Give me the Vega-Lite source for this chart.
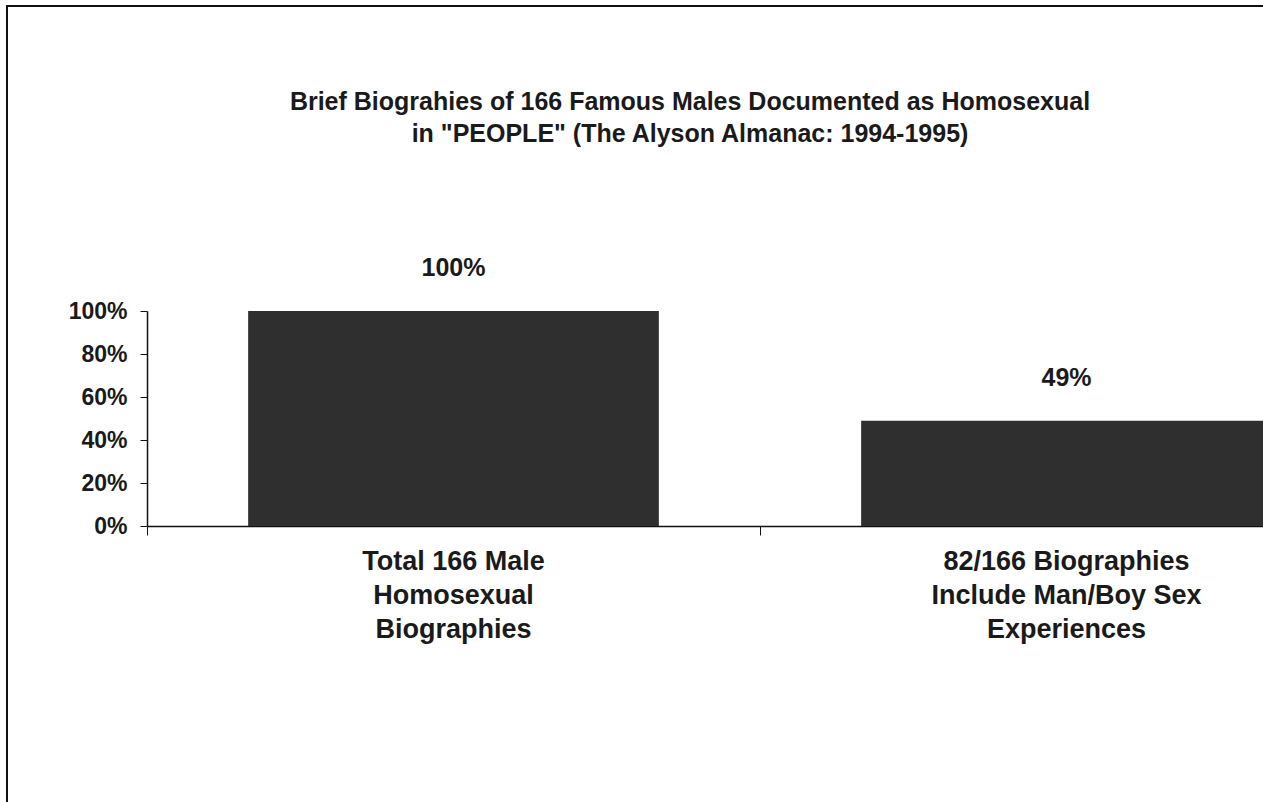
{
  "$schema": "https://vega.github.io/schema/vega-lite/v6.json",
  "autosize": "none",
  "padding": {"left": 7, "top": 6, "right": 0, "bottom": 0},
  "width": 1506,
  "height": 900,
  "background": "white",
  "config": {
    "view": {"stroke": "#111111", "strokeWidth": 2},
    "font": "Liberation Sans"
  },
  "title": {
    "text": ["Brief Biograhies of 166 Famous Males Documented as Homosexual", "in \"PEOPLE\" (The Alyson Almanac: 1994-1995)"],
    "font": "Liberation Sans",
    "fontSize": 25,
    "fontWeight": "bold",
    "color": "#1a1a1a",
    "lineHeight": 32,
    "baseline": "top",
    "anchor": "middle",
    "offset": -141,
    "dx": -70
  },
  "data": {
    "values": [
      {"category": "Total 166 Male|Homosexual|Biographies", "share": 1.0, "label": "100%"},
      {"category": "82/166 Biographies|Include Man/Boy Sex|Experiences", "share": 0.49, "label": "49%"}
    ]
  },
  "encoding": {
    "x": {
      "field": "category",
      "type": "nominal",
      "sort": null,
      "scale": {"range": [140, 1366], "paddingInner": 0.33, "paddingOuter": 0.165},
      "axis": {
        "title": null,
        "orient": "bottom",
        "offset": -380,
        "labelAngle": 0,
        "labelExpr": "split(datum.value, '|')",
        "labelFont": "Liberation Sans",
        "labelFontSize": 27,
        "labelFontWeight": "bold",
        "labelColor": "#1a1a1a",
        "labelLineHeight": 34,
        "labelPadding": 13,
        "labelBaseline": "top",
        "labelLimit": 0,
        "bandPosition": -0.2457,
        "tickSize": 9,
        "tickColor": "#111111",
        "domainColor": "#111111",
        "domainWidth": 1.5,
        "grid": false
      }
    },
    "y": {
      "field": "share",
      "type": "quantitative",
      "scale": {"domain": [0, 1], "range": [520, 305]},
      "axis": {
        "title": null,
        "orient": "left",
        "offset": -140,
        "values": [0, 0.2, 0.4, 0.6, 0.8, 1.0],
        "format": ".0%",
        "labelFont": "Liberation Sans",
        "labelFontSize": 23,
        "labelFontWeight": "bold",
        "labelColor": "#1a1a1a",
        "labelPadding": 13,
        "tickSize": 7,
        "tickColor": "#111111",
        "domainColor": "#111111",
        "domainWidth": 1.5,
        "grid": false
      }
    }
  },
  "layer": [
    {"mark": {"type": "bar", "color": "#2f2f2f"}},
    {
      "mark": {"type": "text", "font": "Liberation Sans", "fontSize": 25, "fontWeight": "bold", "color": "#1a1a1a", "dy": -43, "baseline": "middle"},
      "encoding": {"text": {"field": "label"}}
    }
  ]
}
